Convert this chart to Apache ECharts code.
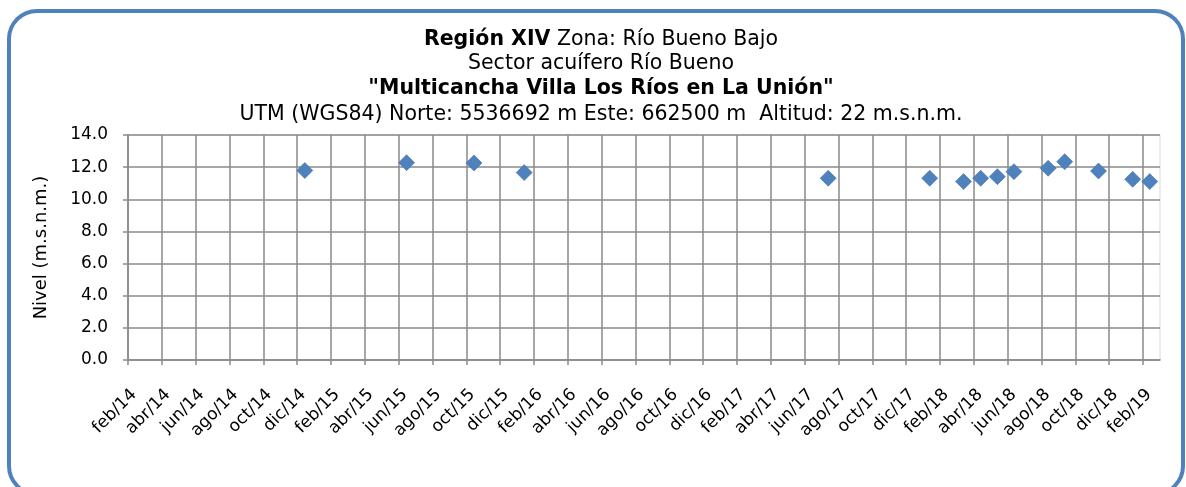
<!DOCTYPE html>
<html>
<head>
<meta charset="utf-8">
<script src="https://cdn.jsdelivr.net/npm/echarts@6/dist/echarts.min.js"></script>
<style>
  html, body { margin: 0; padding: 0; background: #ffffff; }
  #chart { width: 1186px; height: 487px; }
</style>
</head>
<body>
<div id="chart"></div>
<script>
// Fechas de medición y nivel del agua (m.s.n.m.)
const fechas = [
  '2014-12-15', '2015-06-15', '2015-10-15', '2016-01-14', '2017-07-13',
  '2018-01-13', '2018-03-13', '2018-04-13', '2018-05-13', '2018-06-12',
  '2018-08-13', '2018-09-12', '2018-11-12', '2019-01-13', '2019-02-12'
];
const niveles = [
  11.79, 12.28, 12.26, 11.66, 11.31,
  11.31, 11.10, 11.31, 11.41, 11.72,
  11.93, 12.34, 11.76, 11.24, 11.10
];

// Etiquetas del eje X, una cada dos meses desde feb/14
const etiquetasX = [
  'feb/14', 'abr/14', 'jun/14', 'ago/14', 'oct/14', 'dic/14',
  'feb/15', 'abr/15', 'jun/15', 'ago/15', 'oct/15', 'dic/15',
  'feb/16', 'abr/16', 'jun/16', 'ago/16', 'oct/16', 'dic/16',
  'feb/17', 'abr/17', 'jun/17', 'ago/17', 'oct/17', 'dic/17',
  'feb/18', 'abr/18', 'jun/18', 'ago/18', 'oct/18', 'dic/18',
  'feb/19'
];

// Eje X medido en meses contados desde febrero de 2014
function mesesDesdeFeb14(s) {
  const [y, m, d] = s.split('-').map(Number);
  const diasMes = new Date(y, m, 0).getDate();
  return (y - 2014) * 12 + (m - 2) + (d - 1) / diasMes;
}

const puntos = fechas.map((f, i) => [mesesDesdeFeb14(f), niveles[i]]);
const ticksX = etiquetasX.map((_, i) => i * 2);

const FONT = '"DejaVu Sans", sans-serif';
const GRIS = '#8a8a8a';
const TITULO = 20.5;

const chart = echarts.init(document.getElementById('chart'), null, { renderer: 'canvas' });

chart.setOption({
  animation: false,
  backgroundColor: '#ffffff',
  textStyle: { fontFamily: FONT },
  graphic: [
    {
      type: 'rect',
      shape: { x: 9, y: 11, width: 1174, height: 483, r: 28 },
      style: { fill: 'none', stroke: '#4f81bd', lineWidth: 4 },
      silent: true
    },
    {
      type: 'text', x: 601, y: 39.5,
      style: {
        text: '{b|Región XIV} Zona: Río Bueno Bajo',
        align: 'center', verticalAlign: 'middle',
        font: TITULO + 'px ' + FONT, fill: '#000',
        rich: { b: { fontWeight: 'bold', fontSize: TITULO, fontFamily: FONT } }
      }
    },
    {
      type: 'text', x: 601, y: 64,
      style: {
        text: 'Sector acuífero Río Bueno',
        align: 'center', verticalAlign: 'middle',
        font: TITULO + 'px ' + FONT, fill: '#000'
      }
    },
    {
      type: 'text', x: 601, y: 89,
      style: {
        text: '"Multicancha Villa Los Ríos en La Unión"',
        align: 'center', verticalAlign: 'middle',
        font: 'bold ' + TITULO + 'px ' + FONT, fill: '#000'
      }
    },
    {
      type: 'text', x: 601, y: 114.5,
      style: {
        text: 'UTM (WGS84) Norte: 5536692 m Este: 662500 m  Altitud: 22 m.s.n.m.',
        align: 'center', verticalAlign: 'middle',
        font: TITULO + 'px ' + FONT, fill: '#000'
      }
    }
  ],
  grid: {
    left: 128, right: 26, top: 135, bottom: 127,
    show: true, borderColor: '#d9d9d9', borderWidth: 1, backgroundColor: 'transparent'
  },
  xAxis: {
    type: 'value',
    min: 0, max: 61, interval: 2,
    axisLine: { show: true, onZero: false, lineStyle: { color: GRIS, width: 1.5 } },
    axisTick: { show: true, length: 5, customValues: ticksX, lineStyle: { color: GRIS, width: 1.5 } },
    splitLine: { show: true, lineStyle: { color: GRIS, width: 1.5 } },
    axisLabel: {
      customValues: ticksX,
      rotate: 45, margin: 26, verticalAlign: 'top',
      fontSize: 17, color: '#000', fontFamily: FONT,
      formatter: v => etiquetasX[Math.round(v / 2)] || ''
    }
  },
  yAxis: {
    type: 'value',
    min: 0, max: 14, interval: 2,
    name: 'Nivel (m.s.n.m.)',
    nameLocation: 'middle', nameGap: 78, nameRotate: 90,
    nameTextStyle: { fontSize: 18, color: '#000', fontFamily: FONT },
    axisLine: { show: true, lineStyle: { color: GRIS, width: 1.5 } },
    axisTick: { show: true, length: 5, lineStyle: { color: GRIS, width: 1.5 } },
    splitLine: { show: true, lineStyle: { color: GRIS, width: 1.5 } },
    axisLabel: {
      margin: 20, fontSize: 17, color: '#000', fontFamily: FONT,
      formatter: v => v.toFixed(1)
    }
  },
  series: [{
    type: 'scatter',
    data: puntos,
    symbol: 'diamond',
    symbolSize: [16, 16],
    itemStyle: { color: '#4f81bd', opacity: 1, borderColor: '#3f72ad', borderWidth: 0.6 }
  }]
});
</script>
</body>
</html>
